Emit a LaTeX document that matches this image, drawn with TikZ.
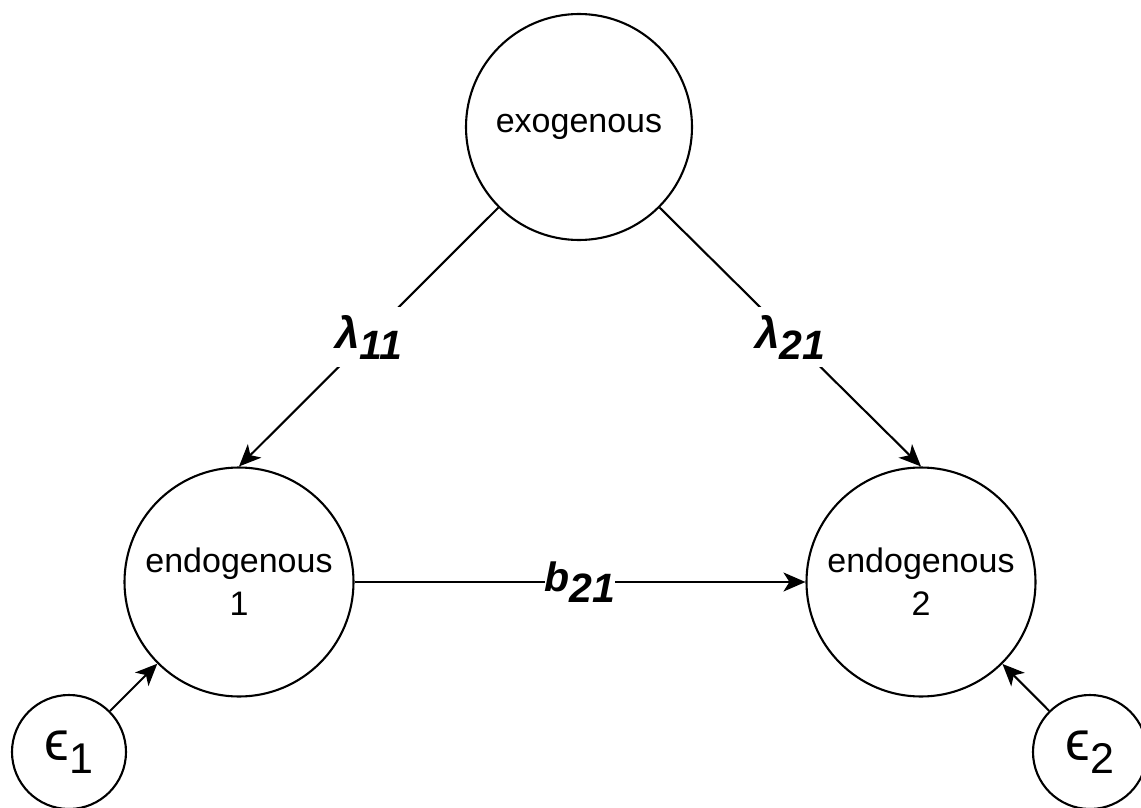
\documentclass[tikz,border=0pt]{standalone}
\usepackage{fontspec}
\setmainfont{Liberation Sans}
\usetikzlibrary{arrows.meta}
\begin{document}
\begin{tikzpicture}[x=1pt,y=-1pt,
  var/.style={circle,draw,line width=2.1pt,inner sep=0pt,minimum size=#1,
    align=center,font=\fontsize{34}{43}\selectfont},
  err/.style={circle,draw,line width=2.1pt,inner sep=0pt,minimum size=114pt},
  link/.style={line width=2.1pt,-{Stealth[length=22pt,width=19pt,inset=6pt]}},
  coef/.style={fill=white,inner xsep=0pt,inner ysep=8pt,
    font=\fontsize{41}{41}\bfseries\itshape\selectfont}
]
\useasboundingbox (0,0) rectangle (1141,808);

% latent variables
\node[var=226pt] (exo)   at (579,127) {\raisebox{-5pt}{exogenous}};
\node[var=229pt] (endo1) at (239,582) {endogenous\\1};
\node[var=229pt] (endo2) at (921,582) {endogenous\\2};

% disturbance terms
\node[err] (e1) at (69,752)
  {\fontsize{56}{56}\selectfont ϵ\raisebox{-13pt}{\fontsize{43}{43}\selectfont 1}};
\node[err] (e2) at (1090,752)
  {\fontsize{56}{56}\selectfont ϵ\raisebox{-13pt}{\fontsize{43}{43}\selectfont 2}};

% structural paths
\draw[link] (exo.south west) -- node[coef] {{\fontsize{44}{44}\selectfont λ}\raisebox{-11pt}{11}} (endo1.north);
\draw[link] (exo.south east) -- node[coef] {{\fontsize{44}{44}\selectfont λ}\raisebox{-11pt}{21}} (endo2.north);
\draw[link] (endo1) -- node[coef] {b\raisebox{-11pt}{21}} (endo2);
\draw[link] (e1) -- (endo1);
\draw[link] (e2) -- (endo2);
\end{tikzpicture}
\end{document}
